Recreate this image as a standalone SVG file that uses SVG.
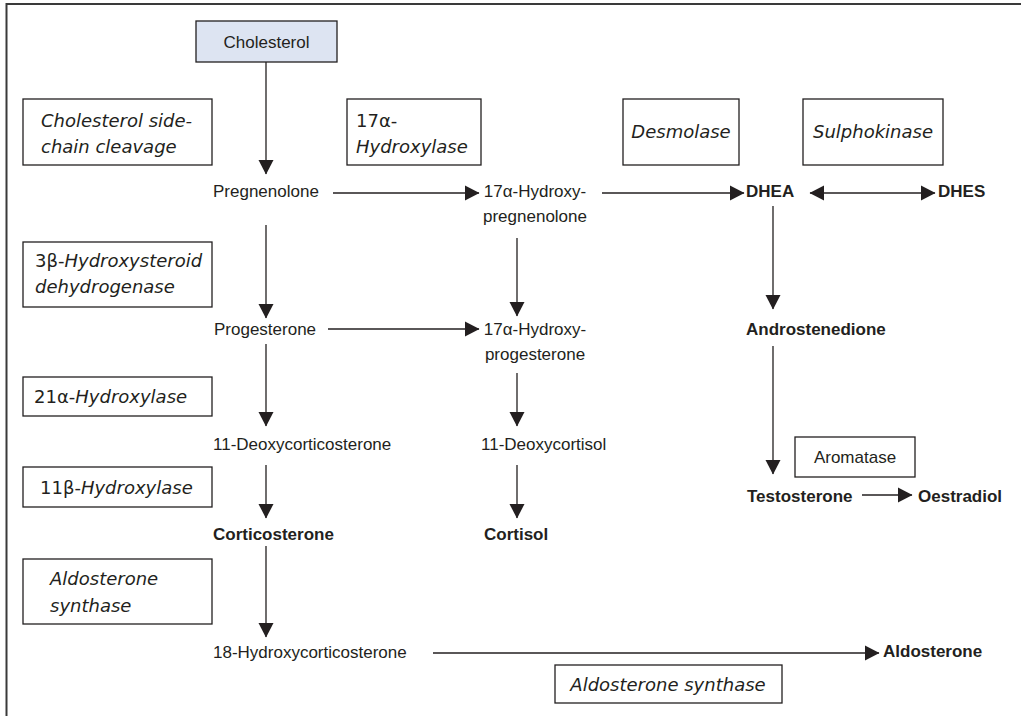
<svg xmlns="http://www.w3.org/2000/svg" width="1021" height="716" viewBox="0 0 1021 716">
<style>
.frame{stroke:#3a3a3a;stroke-width:2;fill:none}
.box{fill:#fff;stroke:#231f20;stroke-width:1.3}
.start{fill:#dde4f2;stroke:#231f20;stroke-width:1.3}
.conn line{stroke:#231f20;stroke-width:1.3;fill:none}
.m{font-family:"Liberation Sans",Arial,sans-serif;font-size:17px;fill:#231f20}
.b{font-weight:bold}
.e{font-family:"DejaVu Sans",sans-serif;font-size:18px;fill:#231f20}
.i{font-style:italic}
</style>
<defs>
<marker id="ah" markerUnits="userSpaceOnUse" markerWidth="15" markerHeight="16" refX="14" refY="8" orient="auto-start-reverse" viewBox="0 0 15 16">
<path d="M0,0.5 L14.5,8 L0,15.5 z" fill="#231f20"/>
</marker>
</defs>
<rect width="1021" height="716" fill="#fff"/>
<g id="frame" class="frame"><path d="M6.5,716 V4 H1021"/></g>
<g class="conn" id="connectors">
<line x1="266" y1="62" x2="266" y2="174" marker-end="url(#ah)"/>
<line x1="266" y1="225" x2="266" y2="318" marker-end="url(#ah)"/>
<line x1="266" y1="344" x2="266" y2="426" marker-end="url(#ah)"/>
<line x1="266" y1="465" x2="266" y2="518" marker-end="url(#ah)"/>
<line x1="266" y1="546" x2="266" y2="637" marker-end="url(#ah)"/>
<line x1="517" y1="238" x2="517" y2="316" marker-end="url(#ah)"/>
<line x1="517" y1="373" x2="517" y2="426" marker-end="url(#ah)"/>
<line x1="517" y1="465" x2="517" y2="518" marker-end="url(#ah)"/>
<line x1="773" y1="206" x2="773" y2="309" marker-end="url(#ah)"/>
<line x1="773" y1="346" x2="773" y2="474" marker-end="url(#ah)"/>
<line x1="333" y1="193" x2="479" y2="193" marker-end="url(#ah)"/>
<line x1="328" y1="329" x2="479" y2="329" marker-end="url(#ah)"/>
<line x1="602" y1="193" x2="744" y2="193" marker-end="url(#ah)"/>
<line x1="810" y1="193" x2="935" y2="193" marker-start="url(#ah)" marker-end="url(#ah)"/>
<line x1="862" y1="495" x2="912" y2="495" marker-end="url(#ah)"/>
<line x1="433" y1="653" x2="879" y2="653" marker-end="url(#ah)"/>
</g>
<g id="cholesterol"><rect class="start" x="196" y="21" width="141" height="41"/><text class="m" x="266.5" y="48" text-anchor="middle">Cholesterol</text></g>
<g id="enz-scc"><rect class="box" x="23" y="99" width="189" height="66"/><text class="e i" x="41" y="127">Cholesterol side-</text><text class="e i" x="41" y="153">chain cleavage</text></g>
<g id="enz-17oh"><rect class="box" x="347" y="99" width="134" height="66"/><text class="e" x="356" y="127">17α-</text><text class="e i" x="356" y="153">Hydroxylase</text></g>
<g id="enz-desmolase"><rect class="box" x="623" y="99" width="116" height="66"/><text class="e i" x="681" y="138" text-anchor="middle">Desmolase</text></g>
<g id="enz-sulpho"><rect class="box" x="803" y="99" width="140" height="66"/><text class="e i" x="873" y="138" text-anchor="middle">Sulphokinase</text></g>
<g id="enz-3bhsd"><rect class="box" x="23" y="242" width="189" height="65"/><text class="e" x="35" y="267">3β-<tspan class="i">Hydroxysteroid</tspan></text><text class="e i" x="35" y="293">dehydrogenase</text></g>
<g id="enz-21oh"><rect class="box" x="23" y="377" width="189" height="39"/><text class="e" x="34" y="403">21α-<tspan class="i">Hydroxylase</tspan></text></g>
<g id="enz-11boh"><rect class="box" x="23" y="467" width="189" height="40"/><text class="e" x="40" y="494">11β-<tspan class="i">Hydroxylase</tspan></text></g>
<g id="enz-aldo1"><rect class="box" x="23" y="559" width="189" height="65"/><text class="e i" x="50" y="585">Aldosterone</text><text class="e i" x="50" y="612">synthase</text></g>
<g id="enz-aromatase"><rect class="box" x="795" y="437" width="120" height="40"/><text class="m" x="855" y="463" text-anchor="middle">Aromatase</text></g>
<g id="enz-aldo2"><rect class="box" x="555" y="665" width="227" height="38"/><text class="e i" x="668" y="691" text-anchor="middle">Aldosterone synthase</text></g>
<g id="pregnenolone"><text class="m" x="213" y="197">Pregnenolone</text></g>
<g id="oh-pregnenolone"><text class="m" x="535" y="197" text-anchor="middle">17α-Hydroxy-</text><text class="m" x="535" y="222" text-anchor="middle">pregnenolone</text></g>
<g id="dhea"><text class="m b" x="746" y="197">DHEA</text></g>
<g id="dhes"><text class="m b" x="938" y="197">DHES</text></g>
<g id="progesterone"><text class="m" x="214" y="335">Progesterone</text></g>
<g id="oh-progesterone"><text class="m" x="535" y="335" text-anchor="middle">17α-Hydroxy-</text><text class="m" x="535" y="360" text-anchor="middle">progesterone</text></g>
<g id="androstenedione"><text class="m b" x="746" y="335">Androstenedione</text></g>
<g id="deoxycorticosterone"><text class="m" x="213" y="450">11-Deoxycorticosterone</text></g>
<g id="deoxycortisol"><text class="m" x="481" y="450">11-Deoxycortisol</text></g>
<g id="testosterone"><text class="m b" x="747" y="502">Testosterone</text></g>
<g id="oestradiol"><text class="m b" x="918" y="502">Oestradiol</text></g>
<g id="corticosterone"><text class="m b" x="213" y="540">Corticosterone</text></g>
<g id="cortisol"><text class="m b" x="484" y="540">Cortisol</text></g>
<g id="hydroxycorticosterone"><text class="m" x="213" y="658">18-Hydroxycorticosterone</text></g>
<g id="aldosterone"><text class="m b" x="883" y="657">Aldosterone</text></g>
</svg>
